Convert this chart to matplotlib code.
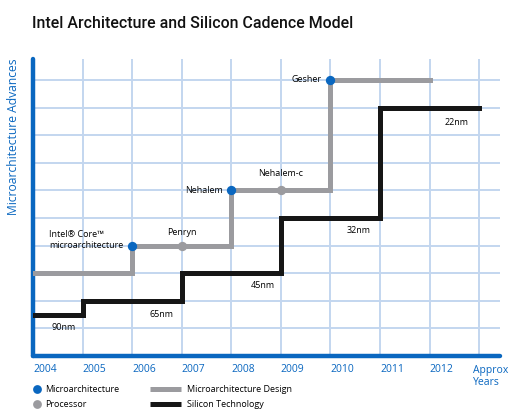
import numpy as np
import matplotlib
matplotlib.use("Agg")
import matplotlib.pyplot as plt

plt.rcParams['font.family'] = ['Open Sans', 'DejaVu Sans']

# ── data ──
years = [2004, 2005, 2006, 2007, 2008, 2009, 2010, 2011, 2012]
year_labels = [str(y) for y in years]

# microarchitecture design step line (x, level)
design_x = [2004, 2006, 2006, 2008, 2008, 2010, 2010, 2012]
design_y = [3, 3, 4, 4, 6, 6, 10, 10]

# silicon technology step line
silicon_x = [2004, 2005, 2005, 2007, 2007, 2009, 2009, 2011, 2011, 2013]
silicon_y = [1.5, 1.5, 2, 2, 3, 3, 5, 5, 9, 9]

# process nodes
node_names = ["90nm", "65nm", "45nm", "32nm", "22nm"]
node_x = [2004.62, 2006.6, 2008.63, 2010.57, 2012.55]
node_y = [1.05, 1.5, 2.55, 4.55, 8.45]

# microarchitectures (blue) and processors (gray)
arch_names = ["Intel\u00ae Core\u2122\nmicroarchitecture", "Nehalem", "Gesher"]
arch_x = [2006, 2008, 2010]
arch_y = [4, 6, 10]
proc_names = ["Penryn", "Nehalem-c"]
proc_x = [2007, 2009]
proc_y = [4, 6]

BLUE = "#0a67c0"
GRAY = "#9b9b9f"
BLACK = "#161616"
GRID = "#c3d6ef"

fig = plt.figure(figsize=(5.12, 4.15), dpi=100)
W, H = 512, 415
ax = fig.add_axes([33 / W, (H - 356) / H, (500 - 33) / W, (356 - 59) / H])
ax.set_xlim(2004, 2013.42)
ax.set_ylim(0, 10.76)

for x in range(2005, 2014):
    ax.axvline(x, color=GRID, lw=1.4, zorder=1)
for y in range(1, 11):
    ax.axhline(y, color=GRID, lw=1.4, zorder=1)

for s in ["top", "right"]:
    ax.spines[s].set_visible(False)
for s in ["left", "bottom"]:
    ax.spines[s].set_color(BLUE)
    ax.spines[s].set_linewidth(3.2)
    ax.spines[s].set_capstyle("round")

ax.plot(design_x, design_y, color=GRAY, lw=3.6, solid_joinstyle="miter", zorder=3)
ax.plot(silicon_x, silicon_y, color=BLACK, lw=3.6, solid_joinstyle="miter", zorder=3)
ax.scatter(arch_x, arch_y, s=45, color=BLUE, zorder=5, linewidths=0)
ax.scatter(proc_x, proc_y, s=45, color=GRAY, zorder=5, linewidths=0)

fs = 6.5
ax.text(2005.82, 4.2, arch_names[0], ha="right", va="center", fontsize=fs,
        linespacing=1.25, multialignment="left")
ax.text(2007.82, 6.0, arch_names[1], ha="right", va="center", fontsize=fs)
ax.text(2009.82, 10.0, arch_names[2], ha="right", va="center", fontsize=fs)
ax.text(proc_x[0], 4.48, proc_names[0], ha="center", va="center", fontsize=fs)
ax.text(proc_x[1], 6.6, proc_names[1], ha="center", va="center", fontsize=fs)
for name, x, y in zip(node_names, node_x, node_y):
    ax.text(x, y, name, ha="center", va="center", fontsize=fs)

ax.set_xticks(years)
ax.set_xticklabels(year_labels, ha="left", color=BLUE, fontsize=7.5)
ax.set_yticks([])
ax.tick_params(axis="x", length=0, pad=6)
ax.text(2012.88, -0.32, "Approx\nYears", ha="left", va="top", color=BLUE,
        fontsize=7.5, linespacing=1.15)

fig.text(14 / W, 1 - 137 / H, "Microarchitecture Advances", rotation=90,
         ha="center", va="center", color=BLUE, fontsize=8.7)
fig.text(32 / W, 1 - 24 / H, "Intel Architecture and Silicon Cadence Model",
         ha="left", va="center", fontsize=11.4, fontweight="medium",
         family=["Roboto", "DejaVu Sans"], color="#111111")

# legend
lg = fig.add_axes([0, 0, 1, 1], zorder=-1)
lg.set_xlim(0, W)
lg.set_ylim(H, 0)
lg.axis("off")
lg.scatter([37], [389], s=40, color=BLUE, linewidths=0)
lg.scatter([37], [404], s=40, color=GRAY, linewidths=0)
lg.plot([150, 181], [389, 389], color=GRAY, lw=3.6, solid_capstyle="butt")
lg.plot([150, 181], [404, 404], color=BLACK, lw=3.6, solid_capstyle="butt")
lg.text(45, 389, "Microarchitecture", va="center", fontsize=6.5)
lg.text(45, 404, "Processor", va="center", fontsize=6.5)
lg.text(187, 389, "Microarchitecture Design", va="center", fontsize=6.5)
lg.text(187, 404, "Silicon Technology", va="center", fontsize=6.5)

fig.savefig("out.png", dpi=100)
